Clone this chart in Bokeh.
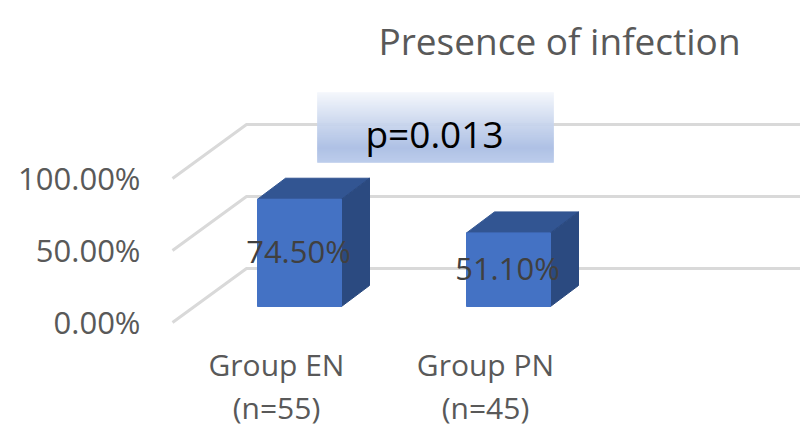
from bokeh.embed import file_html
from bokeh.resources import INLINE
from bokeh.plotting import figure
from bokeh.models import LinearAxis, Range1d, FixedTicker
from bokeh.core.properties import value

# --- data ---
categories = ["Group EN", "Group PN"]
sample_sizes = ["(n=55)", "(n=45)"]
values = [74.5, 51.1]
value_labels = ["74.50%", "51.10%"]
ticks = [0, 50, 100]
tick_labels = ["0.00%", "50.00%", "100.00%"]
chart_title = "Presence of infection"
p_label = "p=0.013"

# --- layout (reference pixels) ---
W, H = 800, 447
FRAME_L = 143
PX_X = 209.0      # px per category
PX_Y = 1.44       # px per percent
X0 = 299.0        # ref x of first bar centre
Y0 = 306.0        # ref y of the bar base

def dx(px):  # ref x -> data x
    return (px - X0) / PX_X

def dy(py):  # ref y -> data y
    return (Y0 - py) / PX_Y

p = figure(width=W, height=H, output_backend="svg", toolbar_location=None,
           x_range=Range1d(dx(FRAME_L), dx(W)), y_range=Range1d(dy(H), dy(0)),
           x_axis_location=None, y_axis_location=None,
           min_border_left=FRAME_L, min_border_right=0, min_border_top=0, min_border_bottom=0,
           outline_line_color=None, background_fill_color="white", border_fill_color="white")
p.grid.visible = False

# value axis on the front edge of the side wall
shift = (Y0 - 322) / PX_Y
label_nudge = 1 / PX_Y
p.extra_y_ranges["val"] = Range1d(dy(H) - shift - label_nudge, dy(0) - shift - label_nudge)
ax = LinearAxis(y_range_name="val", ticker=FixedTicker(ticks=ticks),
                major_label_overrides=dict(zip(ticks, tick_labels)),
                axis_line_color=None, major_tick_line_color=None, minor_tick_line_color=None,
                major_tick_out=0, major_tick_in=0, minor_tick_out=0, minor_tick_in=0,
                major_label_text_font="Open Sans", major_label_text_font_size="31px",
                major_label_text_color="#595959", major_label_standoff=3)
p.add_layout(ax, "left")

# grid: side wall and back wall
GRID = "#D9D9D9"
back = (Y0 - 268) / PX_Y
for v in ticks:
    p.line([dx(172), dx(246), dx(W)], [v + shift, v + back, v + back],
           line_color=GRID, line_width=3)

# 3-D bars
bw = 84 / PX_X
ddx, ddy = 28 / PX_X, 21 / PX_Y
xs = list(range(len(values)))
for x, v in zip(xs, values):
    l, r = x - bw / 2, x + bw / 2
    p.patch([l, r, r + ddx, l + ddx], [v, v, v + ddy, v + ddy], fill_color="#325592", line_color="#325592")
    p.patch([r, r + ddx, r + ddx, r], [0, ddy, v + ddy, v], fill_color="#2B4A80", line_color="#2B4A80")
    p.quad(left=l, right=r, bottom=0, top=v, fill_color="#4472C4", line_color="#4472C4")

# data labels
p.text([x - 1 / PX_X for x in xs], [v / 2 + 2 / PX_Y for v in values], text=value_labels,
       text_font=value("Open Sans"), text_font_size="31px", text_color="#404040",
       text_align="center", text_baseline="middle")

# category labels
cx = [x + dx(276) for x in xs]
p.text(cx, [dy(364)] * 2, text=categories, text_font=value("Open Sans"), text_font_size="30px",
       text_color="#595959", text_align="center", text_baseline="middle")
p.text(cx, [dy(407)] * 2, text=sample_sizes, text_font=value("Open Sans"), text_font_size="30px",
       text_color="#595959", text_align="center", text_baseline="middle")

# title
p.text([dx(559)], [dy(40)], text=[chart_title], text_font=value("Open Sans"), text_font_size="37px",
       text_color="#595959", text_align="center", text_baseline="middle")

# p-value box with vertical gradient
TOP, BOT = 92, 162
stops = [(0.0, (244, 247, 252)), (0.45, (200, 213, 237)), (0.8, (169, 189, 227)), (1.0, (184, 201, 234))]
def colour(t):
    for (t0, c0), (t1, c1) in zip(stops, stops[1:]):
        if t <= t1:
            k = (t - t0) / (t1 - t0)
            return "#%02x%02x%02x" % tuple(round(a + (b - a) * k) for a, b in zip(c0, c1))
    return "#%02x%02x%02x" % stops[-1][1]
n = BOT - TOP
tops = [dy(TOP + i) for i in range(n)]
bots = [dy(TOP + i + 1) for i in range(n)]
cols = [colour((i + 0.5) / n) for i in range(n)]
p.quad(left=dx(317), right=dx(553), top=tops, bottom=bots, fill_color=cols, line_color=cols, line_width=0.5)
p.text([dx(434)], [dy(133)], text=[p_label], text_font=value("Open Sans"), text_font_size="37px",
       text_color="#000000", text_align="center", text_baseline="middle")

open("out.html", "w").write(file_html(p, INLINE))
